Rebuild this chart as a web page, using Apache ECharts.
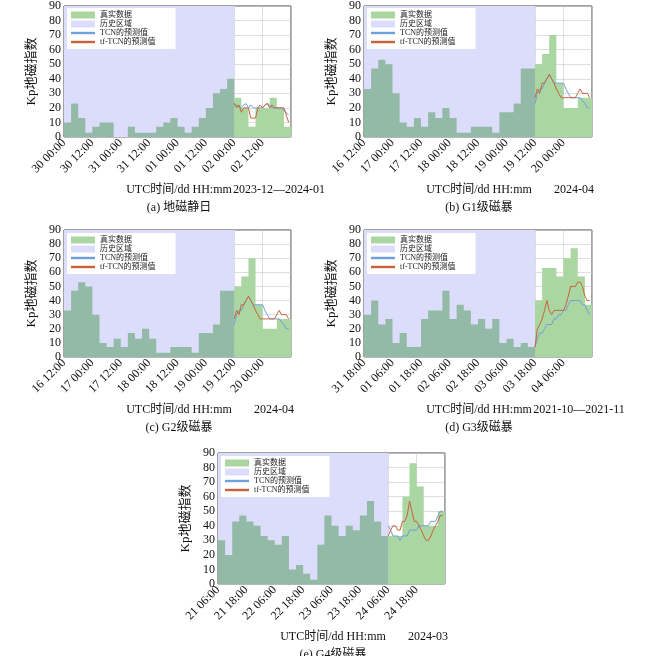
<!DOCTYPE html>
<html><head><meta charset="utf-8">
<script src="https://cdn.jsdelivr.net/npm/echarts@6/dist/echarts.min.js"></script>
<style>html,body{margin:0;background:#fff}#c{width:650px;height:656px}</style>
</head><body><div id="c"></div>
<script>
// Kp 三小时值，前 24 个为历史区域，后 8 个为预测区域
var kpA = [10,23,13,3,7,10,10,0,0,7,3,3,3,7,10,13,7,3,7,13,20,30,33,40, 27,20,7,20,20,27,20,7];
var tcnA = [23,22,21,20,22,23,20,22,20,20,20,20,20,22,23,22,20,20,20,20,20,18,17,15];
var tfA = [23,20,22,17,20,20,20,13,13,13,20,22,20,22,23,20,22,20,20,20,20,20,15,10];
var ticksA = ['30 00:00','30 12:00','31 00:00','31 12:00','01 00:00','01 12:00','02 00:00','02 12:00'];

var kpB = [33,47,53,50,30,10,7,13,7,17,13,20,13,3,3,7,7,7,3,17,17,23,47,47, 50,57,70,37,20,20,27,27];
var tcnB = [23,30,33,33,37,40,43,40,37,37,37,37,37,33,30,27,27,27,27,27,25,23,20,20];
var tfB = [27,33,30,37,37,40,43,40,37,33,30,27,27,27,27,27,27,27,30,33,30,30,30,27];
var ticksB = ['16 12:00','17 00:00','17 12:00','18 00:00','18 12:00','19 00:00','19 12:00','20 00:00'];

var kpD = [30,40,23,27,10,17,7,7,27,33,33,47,27,37,33,23,27,20,27,10,13,7,10,7, 40,63,63,57,70,77,57,37];
var tcnD = [7,13,17,17,20,23,23,23,27,27,30,30,33,33,37,40,40,40,40,40,37,37,33,30];
var tfD = [7,20,23,27,33,40,33,30,33,33,33,33,33,37,43,50,50,50,53,53,50,43,40,40];
var ticksD = ['31 18:00','01 06:00','01 18:00','02 06:00','02 18:00','03 06:00','03 18:00','04 06:00'];

var kpE = [30,20,43,47,43,40,33,30,27,33,10,13,7,3,27,47,40,33,40,37,47,57,43,33, 33,33,60,83,67,40,40,50];
var tcnE = [40,37,33,33,33,30,33,33,33,37,37,37,37,40,40,40,40,40,43,43,43,47,50,50];
var tfE = [33,37,40,40,37,37,43,43,47,57,50,43,43,40,37,33,30,30,33,37,40,43,47,47];
var ticksE = ['21 06:00','21 18:00','22 06:00','22 18:00','23 06:00','23 18:00','24 06:00','24 18:00'];

var panels = [
  {kp: kpA, tcn: tcnA, tf: tfA, ticks: ticksA, box: [64, 5, 227, 132], date: '2023-12—2024-01', cap: '(a) 地磁静日'},
  {kp: kpB, tcn: tcnB, tf: tfB, ticks: ticksB, box: [364, 5, 228, 132], date: '2024-04', cap: '(b) G1级磁暴'},
  {kp: kpB, tcn: tcnB, tf: tfB, ticks: ticksB, box: [64, 230, 227, 127], date: '2024-04', cap: '(c) G2级磁暴'},
  {kp: kpD, tcn: tcnD, tf: tfD, ticks: ticksD, box: [364, 230, 228, 127], date: '2021-10—2021-11', cap: '(d) G3级磁暴'},
  {kp: kpE, tcn: tcnE, tf: tfE, ticks: ticksE, box: [218, 453, 227, 131], date: '2024-03', cap: '(e) G4级磁暴'}
];

var FONT = 'Liberation Serif, Noto Sans CJK SC';
var SPLIT = 72, END = 96;

function stepData(vals, from, to) {
  var d = [];
  for (var i = from; i < to; i++) d.push([i * 3, vals[i]]);
  d.push([to * 3, vals[to - 1]]);
  return d;
}
function hourly(vals) {
  return vals.map(function (v, i) { return [SPLIT + i, v]; });
}

var grids = [], xAxes = [], yAxes = [], series = [], legends = [], titles = [];
panels.forEach(function (p, k) {
  var b = p.box;
  grids.push({left: b[0], top: b[1], width: b[2], height: b[3], show: true,
    borderColor: '#444', borderWidth: 1, backgroundColor: 'transparent'});
  xAxes.push({type: 'value', gridIndex: k, min: 0, max: END, interval: 12,
    axisLine: {show: false}, axisTick: {show: false},
    splitLine: {show: true, lineStyle: {color: '#c8c8c8', width: 0.6}},
    axisLabel: {rotate: 45, fontFamily: FONT, fontSize: 12, color: '#111', margin: 4,
      formatter: (function (t) { return function (v) { return t[v / 12] || ''; }; })(p.ticks)}});
  yAxes.push({type: 'value', gridIndex: k, min: 0, max: 90, interval: 10,
    name: 'Kp地磁指数', nameLocation: 'middle', nameGap: 26,
    nameTextStyle: {fontFamily: FONT, fontSize: 13, color: '#111'},
    axisLine: {show: false}, axisTick: {show: false},
    splitLine: {show: true, lineStyle: {color: '#c8c8c8', width: 0.6}},
    axisLabel: {fontFamily: FONT, fontSize: 12, color: '#111', margin: 3}});
  series.push({name: '真实数据', type: 'line', step: 'end', xAxisIndex: k, yAxisIndex: k,
    data: stepData(p.kp, 24, 32), symbol: 'none', z: 2,
    lineStyle: {width: 0}, color: '#a9d6a1', areaStyle: {color: '#a9d6a1', opacity: 1}});
  series.push({name: 'hist', type: 'line', step: 'end', xAxisIndex: k, yAxisIndex: k,
    data: stepData(p.kp, 0, 24), symbol: 'none', z: 2,
    lineStyle: {width: 0}, areaStyle: {color: '#93b9a7', opacity: 1}});
  series.push({name: '历史区域', type: 'line', xAxisIndex: k, yAxisIndex: k, data: [],
    color: '#dcdcfb', z: 1, silent: true,
    markArea: {silent: true, itemStyle: {color: '#dcdcfb'}, data: [[{xAxis: 0}, {xAxis: SPLIT}]]}});
  series.push({name: 'TCN的预测值', type: 'line', xAxisIndex: k, yAxisIndex: k,
    data: hourly(p.tcn), symbol: 'none', z: 3, color: '#6f9fd8', lineStyle: {width: 1}});
  series.push({name: 'tf-TCN的预测值', type: 'line', xAxisIndex: k, yAxisIndex: k,
    data: hourly(p.tf), symbol: 'none', z: 3, color: '#c8623a', lineStyle: {width: 1}});
  legends.push({left: b[0] + 3, top: b[1] + 3, orient: 'vertical', itemGap: 1,
    itemWidth: 24, itemHeight: 7, padding: [3, 20, 3, 4], backgroundColor: '#fff',
    textStyle: {fontFamily: FONT, fontSize: 8, color: '#222'},
    data: [{name: '真实数据', icon: 'rect'}, {name: '历史区域', icon: 'rect'},
      {name: 'TCN的预测值', icon: 'path://M0,5L10,5L10,6L0,6Z'},
      {name: 'tf-TCN的预测值', icon: 'path://M0,5L10,5L10,6L0,6Z'}]});
  var ty = b[1] + b[3] + 42;
  var st = {fontFamily: FONT, fontSize: 12, fontWeight: 'normal', color: '#111'};
  titles.push({text: 'UTC时间/dd HH:mm', left: b[0] + 110, top: ty, textAlign: 'center', textStyle: st});
  titles.push({text: p.date, left: b[0] + (p.date.length > 8 ? 210 : 205), top: ty, textAlign: 'center', textStyle: st});
  titles.push({text: p.cap, left: b[0] + 110, top: ty + 18, textAlign: 'center', textStyle: st});
});

var chart = echarts.init(document.getElementById('c'));
chart.setOption({
  animation: false,
  title: titles,
  legend: legends,
  grid: grids,
  xAxis: xAxes,
  yAxis: yAxes,
  series: series
});
</script>
</body></html>
